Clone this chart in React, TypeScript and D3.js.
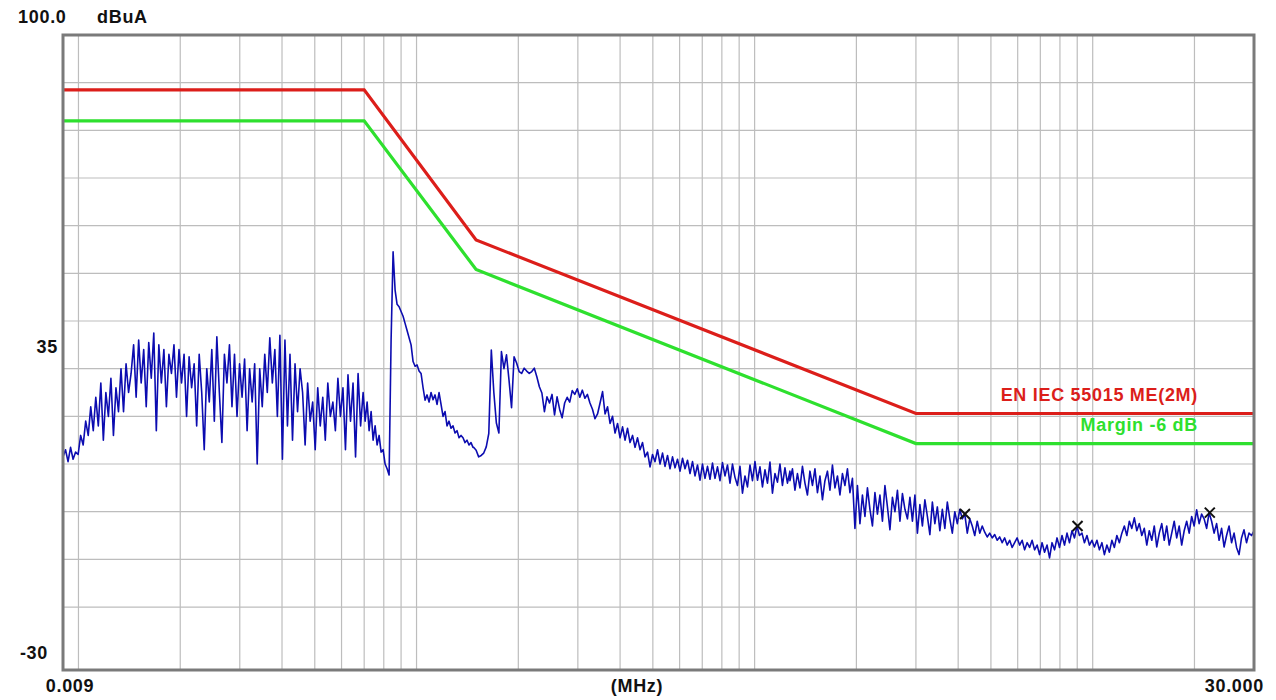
import { useEffect, useRef } from "react"
import * as d3 from "d3"

// plot frame in px
const W = 1276
const H = 700
const frame = { left: 63, right: 1254, top: 35, bottom: 670 }

// axes (MHz, dBuA)
const freqRange = [0.009, 30]
const levelRange = [-30, 100]
const gridLevels = [90, 80, 70, 60, 50, 40, 30, 20, 10, 0, -10, -20]
const yTickLabels = ["100.0", "35", "-30"]
const yTickValues = [100, 35, -30]

// limit lines
const limitFreq = [0.009, 0.07, 0.15, 3, 30]
const limitLevel = [88.5, 88.5, 57, 20.6, 20.6]
const marginLevel = [82, 82, 50.8, 14.3, 14.3]
const limitName = "EN IEC 55015 ME(2M)"
const marginName = "Margin -6 dB"

// peak markers
const markerFreq = [4.19, 9.02, 22.2]
const markerLevel = [-0.5, -3, -0.2]

const segRanges = [
  [0.009, 0.0695],
  [0.0695, 0.1469],
  [0.1475, 0.349],
  [0.349, 1.272],
  [1.272, 2.88],
  [2.88, 30],
]
const seg1 = [
  11.5, 13, 10.5, 13.5, 11, 12.5,
  12, 16, 14, 19,
  16, 22, 17, 24, 18,
  27, 15, 25, 20, 28, 16, 26, 21,
  30, 21, 31, 25, 29,
  35, 24, 36, 27, 34, 22, 35.5, 28, 37.5, 17,
  35, 27, 34, 22, 33, 29, 35, 24, 34,
  27, 33, 20, 32.5, 26, 31, 18, 33, 25, 13, 30,
  23, 34, 19, 36.7, 25, 14.5, 33, 27, 35, 22,
  33, 20, 31, 24, 32, 17, 30, 23, 31, 10,
  30, 22, 33, 25, 36.5, 27, 34, 20, 37, 11,
  36, 18, 33, 15, 31, 21, 30,
  25, 14, 27, 19, 23, 13, 26, 18, 24, 15, 27, 20, 23,
  17, 28, 20, 26, 13, 28.7, 19, 27, 11.5, 29, 18, 25,
]
const seg2 = [
  25, 19, 23, 17, 21, 15, 18, 14, 16, 12.5, 13, 10, 9, 7.7,
  36, 54.5, 46.5, 43.5, 43, 42, 41, 39.5, 38, 36.5, 35, 31.5,
  30.5, 30.8, 29.5, 29, 26, 23.4, 24.5, 23, 25, 23.5, 24.5, 22.5,
  25, 22.5, 20, 21, 18, 19, 17.5, 18, 16.5, 17, 15.5, 16, 15.5,
  14.5, 15, 14, 14.5, 13.5,
]
const seg3 = [
  13.5, 12.9, 11.5, 11.8, 12.3, 13.6, 16.4, 33.9, 25, 18.6, 16.5,
  33.6, 30, 32.9, 27.6, 21.8, 32.5, 31.2, 29.4, 29, 30.1, 29.5,
  29, 29.4, 30.1, 28.3, 26.2, 24.9, 21, 24.1, 22.8, 24.6, 20.3,
  24.1, 21.5, 19.7, 22.8, 24, 23, 25.4, 24.6, 25.8, 24, 25.5,
  23.8, 24.6, 22.8, 21.5, 19.5, 20.5, 22.8,
]
const seg4 = [
  22.8, 25.2, 20.5, 22, 18.5, 20, 16.5, 18.5, 15.5, 17.8,
  15, 17.5, 14.5, 16, 13.5, 15.5, 13, 14.5, 11.5, 12.5,
  9.4, 12, 10.5, 13, 10, 12.3, 9.5, 11.8, 9, 11.5,
  9.2, 11, 8.5, 11.2, 9, 10.8, 8, 10.5, 7.5, 9.8,
  6.6, 10, 7, 9.5, 6.8, 10.2, 7, 9.4, 6.5, 10.3,
  7.5, 9.8, 6, 10, 7.2, 5.5, 9.5, 3.9, 7.5, 5.2,
  9.8, 6.5, 10.5, 6.6, 9.4, 5.2, 8.8, 6, 10.4, 3.9,
  8, 6.2, 10, 5.5, 9.2, 6, 8.5,
]
const seg5 = [
  6.5, 9, 4.5, 8, 5, 9.5, 6, 3.5, 8.5, 5.5, 9, 4, 7.5, 2.5, 6.5,
  8.5, 4.5, 9.8, 5, 7.5, 3.5, 8, 5.5, 9, 4, 7, -3.5, 5.5, -2.5,
  3.5, -1, 5, 0.5, -3, 4, -0.5, 3.5, -2, 5.5, 1, -3.8, 3, 0, 4.5,
  -2, 3.8, 0.5, -1.5, 3,
]
const seg6 = [
  3, -2, 3.5, -4.5, 1.5, -3, 2.5, -1, -4.8, 2, -2.5, 1, -4, 0.5,
  -3.5, 2, -1.5, -4.5, 0, -2.5, 0.5, -1.5, -0.5, -4.5, -1.5, -3,
  -5, -2, -4.5, -3, -4.3, -5.3, -4.5, -5.5, -4.8, -6, -5.3, -6.5,
  -5.5, -7, -6, -7.5, -6.5, -5.5, -7, -6, -8, -6.5, -7.5, -6, -8,
  -7, -9, -6.5, -8.5, -7, -9.7, -6.5, -8, -5.5, -7.5, -5, -7, -4.5,
  -6.5, -4, -5.5, -3, -5, -4.5, -6.5, -5, -7, -6, -7.4, -6, -8,
  -6.5, -9, -7, -8.5, -6, -7.5, -5, -6.5, -4.5, -3, -5, -2, -3.5,
  -1.3, -4, -2.5, -5, -3.5, -7, -4, -6, -3, -7.4, -4.5, -2.5, -6,
  -3, -7, -4.5, -2, -5.5, -3, -7, -4, -2, -4.5, -1, -3, 0.4, -2.5,
  -0.5, -1.5, -3.5, -0.2, -2, -4.5, -2.5, -6, -3.5, -7.4, -5, -3,
  -6.5, -4.5, -7.5, -9, -5.5, -3.8, -6.5, -4.5, -5, -4,
]
const segments = [seg1, seg2, seg3, seg4, seg5, seg6]

export default function App() {
  const svgRef = useRef(null)

  useEffect(() => {
    const svg = d3.select(svgRef.current)
    svg.selectAll("*").remove()

    const x = d3.scaleLog().domain(freqRange).range([frame.left, frame.right])
    const y = d3.scaleLinear().domain(levelRange).range([654.7, frame.top])

    svg.append("rect")
      .attr("width", W).attr("height", H).attr("fill", "#fff")

    // grid
    const g = svg.append("g")
    const decadeTicks = []
    for (let d = 0.001; d < 100; d *= 10) {
      for (let k = 1; k < 10; k++) {
        const f = +(d * k).toPrecision(3)
        if (f > freqRange[0] && f < freqRange[1]) decadeTicks.push(f)
      }
    }
    g.selectAll("line.v")
      .data(decadeTicks)
      .join("line")
      .attr("x1", d => x(d)).attr("x2", d => x(d))
      .attr("y1", frame.top).attr("y2", frame.bottom)
      .attr("stroke", "#bdbdbd").attr("stroke-width", 1.2)

    g.selectAll("line.h")
      .data(gridLevels)
      .join("line")
      .attr("x1", frame.left).attr("x2", frame.right)
      .attr("y1", d => y(d)).attr("y2", d => y(d))
      .attr("stroke", "#bdbdbd").attr("stroke-width", 1.2)

    // limit + margin
    const lim = d3.line()
      .x((d, i) => x(limitFreq[i]))
      .y(d => y(d))

    svg.append("path")
      .datum(marginLevel)
      .attr("fill", "none").attr("stroke", "#2ee02e").attr("stroke-width", 3.2)
      .attr("d", lim)

    svg.append("path")
      .datum(limitLevel)
      .attr("fill", "none").attr("stroke", "#dc1e1a").attr("stroke-width", 3.2)
      .attr("d", lim)

    // trace
    const pts = []
    segments.forEach((vals, s) => {
      const [a, b] = segRanges[s]
      const sweep = d3.scaleLog().domain([a, b]).range([0, vals.length - 1])
      vals.forEach((v, i) => pts.push([sweep.invert(i), v]))
    })

    svg.append("path")
      .datum(pts)
      .attr("fill", "none")
      .attr("stroke", "#0c0cb0")
      .attr("stroke-width", 1.6)
      .attr("stroke-linejoin", "round")
      .attr("d", d3.line().x(d => x(d[0])).y(d => y(d[1])))

    // markers
    svg.selectAll("path.mk")
      .data(markerFreq)
      .join("path")
      .attr("d", (d, i) => {
        const cx = x(d), cy = y(markerLevel[i]), r = 5
        return `M${cx - r},${cy - r}L${cx + r},${cy + r}M${cx - r},${cy + r}L${cx + r},${cy - r}`
      })
      .attr("stroke", "#111").attr("stroke-width", 2)

    // frame
    svg.append("rect")
      .attr("x", frame.left).attr("y", frame.top)
      .attr("width", frame.right - frame.left)
      .attr("height", frame.bottom - frame.top)
      .attr("fill", "none").attr("stroke", "#7a7a7a").attr("stroke-width", 3)

    const font = "'Liberation Sans', Arial, sans-serif"
    const txt = (t, px, py, anchor, color = "#111") =>
      svg.append("text")
        .attr("x", px).attr("y", py)
        .attr("text-anchor", anchor)
        .attr("font-family", font).attr("font-weight", "bold")
        .attr("font-size", 18).attr("letter-spacing", 0.7)
        .attr("fill", color)
        .text(t)

    // y labels
    txt(yTickLabels[0], 18, 23, "start")
    txt("dBuA", 97, 23, "start")
    txt(yTickLabels[1], 58, y(yTickValues[1]) + 8, "end")
    txt(yTickLabels[2], 48, y(yTickValues[2]) + 4, "end")

    // x labels
    txt(String(freqRange[0]), 70, 692, "middle")
    txt(freqRange[1].toFixed(3), 1264, 692, "end")
    txt("(MHz)", 637, 692, "middle")

    // legend
    txt(limitName, 1198, 401, "end", "#dc1e1a")
    txt(marginName, 1198, 431, "end", "#2ee02e")
  }, [])

  return (
    <svg
      ref={svgRef}
      width={W}
      height={H}
      style={{ position: "absolute", left: 0, top: 0, display: "block" }}
    />
  )
}
